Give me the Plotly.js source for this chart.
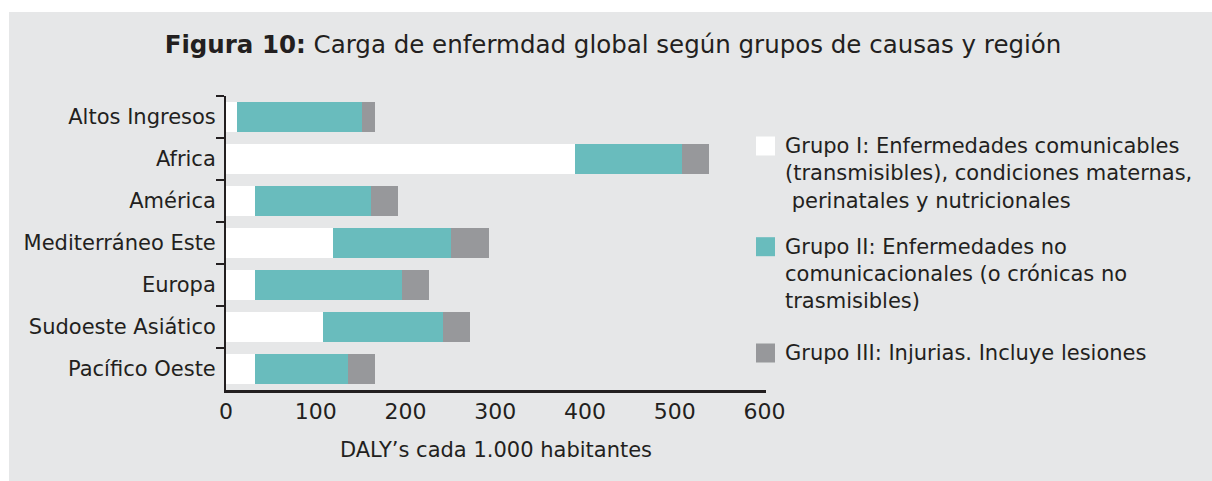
<!DOCTYPE html>
<html>
<head>
<meta charset="utf-8">
<script src="https://cdn.plot.ly/plotly-3.0.1.min.js"></script>
<style>
  html, body { margin: 0; padding: 0; background: #ffffff; }
  #chart { position: absolute; left: 9px; top: 12px; width: 1203px; height: 469px; }
</style>
</head>
<body>
<div id="chart"></div>
<script>
// ---- data ----
const regions = ["Altos Ingresos", "Africa", "América", "Mediterráneo Este", "Europa", "Sudoeste Asiático", "Pacífico Oeste"];
const grupoI   = [12, 389, 32, 119, 32, 108, 32];
const grupoII  = [140, 119, 130, 132, 164, 134, 104];
const grupoIII = [14, 30, 30, 42, 30, 30, 30];
const seriesNames = ["Grupo I", "Grupo II", "Grupo III"];
const legendLines = [
  ["Grupo I: Enfermedades comunicables", "(transmisibles), condiciones maternas,", "\u00a0perinatales y nutricionales"],
  ["Grupo II: Enfermedades no", "comunicacionales (o crónicas no", "trasmisibles)"],
  ["Grupo III: Injurias. Incluye lesiones"]
];
const xTicks = [0, 100, 200, 300, 400, 500, 600];
const xTitle = "DALY’s cada 1.000 habitantes";
const chartTitle = "<b>Figura 10:</b> Carga de enfermdad global según grupos de causas y región";

// ---- style ----
const colors = ["#ffffff", "#69bcbd", "#97989b"];
const ink = "#231f20";
const font = "DejaVu Sans";
const W = 1203, H = 469;
const M = {l: 217, r: 446, t: 84, b: 91};
const PW = W - M.l - M.r, PH = H - M.t - M.b;
const px2x = p => (p - M.l) / PW;
const py2y = p => 1 - (p - M.t) / PH;

const values = [grupoI, grupoII, grupoIII];
const traces = values.map((v, i) => ({
  type: "bar",
  orientation: "h",
  name: seriesNames[i],
  x: v,
  y: regions,
  marker: {color: colors[i], line: {width: 0}},
  hoverinfo: "x+y+name"
}));

// custom legend (squares + text lines)
const legendTop = [134, 234.7, 341];
const lineGap = 27.3;
const shapes = [];
const annotations = [];
legendLines.forEach((lines, i) => {
  const cy = legendTop[i];
  shapes.push({
    type: "rect", xref: "paper", yref: "paper",
    x0: px2x(747), x1: px2x(766), y0: py2y(cy - 9.5), y1: py2y(cy + 9.5),
    fillcolor: colors[i], line: {width: 0}
  });
  lines.forEach((t, j) => {
    annotations.push({
      xref: "paper", yref: "paper",
      x: px2x(774), y: py2y(cy + j * lineGap),
      xanchor: "left", yanchor: "middle",
      text: t, showarrow: false,
      font: {family: font, size: 21, color: ink}
    });
  });
});

const layout = {
  width: W, height: H,
  margin: M,
  paper_bgcolor: "#e6e7e8",
  plot_bgcolor: "rgba(0,0,0,0)",
  barmode: "stack",
  bargap: 0.286,
  showlegend: false,
  font: {family: font, color: ink},
  title: {
    text: chartTitle,
    xref: "container", yref: "container",
    x: 604 / W, y: 1 - 32 / H,
    xanchor: "center", yanchor: "middle",
    font: {family: font, size: 24.5, color: ink}
  },
  xaxis: {
    range: [0, 601.7],
    tickvals: xTicks,
    ticktext: xTicks.map(String),
    showgrid: false, zeroline: false,
    showline: true, linecolor: ink, linewidth: 2.5,
    ticks: "",
    tickfont: {family: font, size: 22, color: ink},
    title: {text: xTitle, standoff: 20, font: {family: font, size: 21, color: ink}}
  },
  yaxis: {
    autorange: "reversed",
    showgrid: false, zeroline: false,
    showline: true, linecolor: ink, linewidth: 2,
    ticks: "outside", tickson: "boundaries", ticklen: 8, tickwidth: 2, tickcolor: ink,
    ticklabelstandoff: 4,
    tickfont: {family: font, size: 21, color: ink}
  },
  shapes: shapes,
  annotations: annotations
};

Plotly.newPlot("chart", traces, layout, {displayModeBar: false, staticPlot: true});
</script>
</body>
</html>
